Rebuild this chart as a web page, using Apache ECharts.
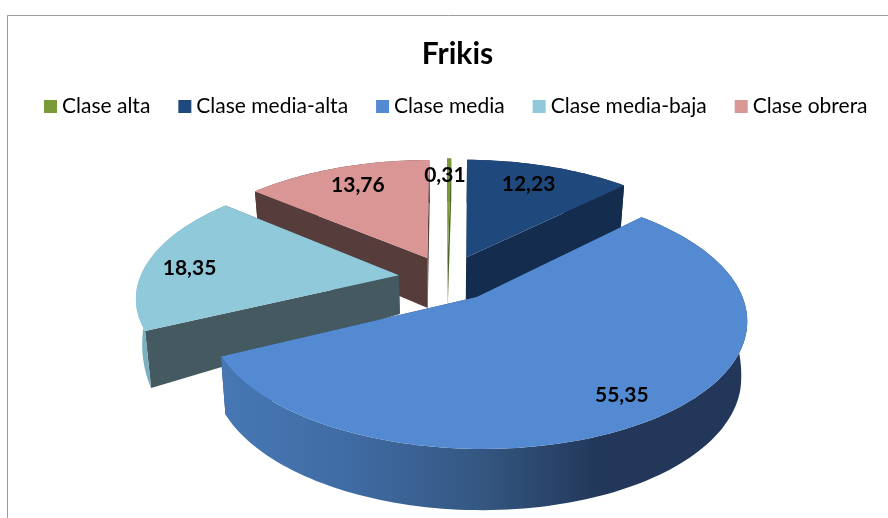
<!DOCTYPE html>
<html>
<head>
<meta charset="utf-8">
<style>html,body{margin:0;padding:0;background:#fff}#c{width:888px;height:518px}</style>
<script src="https://cdn.jsdelivr.net/npm/echarts@6/dist/echarts.min.js"></script>
</head>
<body>
<div id="c"></div>
<script>
const categories = ['Clase alta', 'Clase media-alta', 'Clase media', 'Clase media-baja', 'Clase obrera'];
const values = [0.31, 12.23, 55.35, 18.35, 13.76];
const labels = ['0,31', '12,23', '55,35', '18,35', '13,76'];
const topColors = ['#7a9a3a', '#1f497d', '#538ad2', '#8fc9da', '#d99694'];
const cutColors = ['#4f6426', '#142c4d', '#263f66', '#445a60', '#573c3c'];
const arcStops = [
  [[0, '#5f7a2c'], [1, '#4f6426']],
  [[0, '#142c4d'], [1, '#142c4d']],
  [[0, '#4778b4'], [0.25, '#3f6ba3'], [0.5, '#345680'], [0.72, '#22375a'], [1, '#22375a']],
  [[0, '#7fb4c4'], [1, '#5f8a96']],
  [[0, '#573c3c'], [1, '#573c3c']]
];
const layerOrder = [2, 3, 5, 4, 1];

// projection of the tilted pie
const CX = 447.5, CY = 278, R = 259, RY = 120, K = 0.164, EXPLODE = 0.19, ROT = -0.2;
const LABEL_R = 0.815, SHRINK = 0.98;
const LABEL_NUDGE = [[-4, 1], [-7, 3], [0, 4], [-5, 5], [6, 2]];
const DEPTH_V = [-1.3, -0.17, 0, 0.4, 1.3], DEPTH_PX = [42, 50, 37, 57, 62];

const total = values.reduce((a, b) => a + b, 0);
function angles(i) {
  let before = 0;
  for (let j = 0; j < i; j++) before += values[j];
  const a0 = before / total * 360 + ROT;
  return [a0, a0 + values[i] / total * 360];
}
function project(U, V) {
  const w = 1 - K * V;
  return [CX + R * U / w, CY + RY * V / w];
}
function depth(V) {
  for (let i = 1; i < DEPTH_V.length; i++) {
    if (V <= DEPTH_V[i]) {
      const t = (V - DEPTH_V[i - 1]) / (DEPTH_V[i] - DEPTH_V[i - 1]);
      return DEPTH_PX[i - 1] + t * (DEPTH_PX[i] - DEPTH_PX[i - 1]);
    }
  }
  return DEPTH_PX[DEPTH_PX.length - 1];
}
function offset(i) {
  const [a0, a1] = angles(i);
  const m = (a0 + a1) / 2 * Math.PI / 180;
  return [EXPLODE * Math.sin(m), -EXPLODE * Math.cos(m)];
}
function planePoint(i, deg, r) {
  const [ox, oy] = offset(i);
  const a = deg * Math.PI / 180;
  return [ox + r * Math.sin(a), oy - r * Math.cos(a)];
}
function topPt(p) { return project(p[0], p[1]); }
function botPt(p) {
  const t = project(p[0], p[1]);
  return [CX + (t[0] - CX) * SHRINK, t[1] + depth(p[1])];
}

function renderSlice(i) {
  const [a0, a1] = angles(i);
  const arc = [];
  const steps = Math.max(2, Math.ceil((a1 - a0) / 1.5));
  for (let s = 0; s <= steps; s++) arc.push(planePoint(i, a0 + (a1 - a0) * s / steps, 1));
  const apex = offset(i);
  const first = arc[0], last = arc[arc.length - 1];
  const face = (a, b) => ({
    type: 'polygon', silent: true,
    shape: { points: [topPt(a), topPt(b), botPt(b), botPt(a)] },
    style: { fill: cutColors[i] }
  });
  const wall = {
    type: 'polygon', silent: true,
    shape: { points: arc.map(topPt).concat(arc.slice().reverse().map(botPt)) },
    style: { fill: new echarts.graphic.LinearGradient(0, 0, 1, 0, arcStops[i].map(s => ({ offset: s[0], color: s[1] }))) }
  };
  const top = {
    type: 'polygon', silent: true,
    shape: { points: [topPt(apex)].concat(arc.map(topPt)) },
    style: { fill: topColors[i] }
  };
  return { type: 'group', children: [face(apex, first), face(apex, last), wall, top] };
}

function renderLabel(i) {
  const [a0, a1] = angles(i);
  const p = topPt(planePoint(i, (a0 + a1) / 2, LABEL_R));
  return {
    type: 'text', silent: true, x: p[0] + LABEL_NUDGE[i][0], y: p[1] + LABEL_NUDGE[i][1],
    style: { text: labels[i], fill: '#000', font: 'bold 21px Lato', align: 'center', verticalAlign: 'middle' }
  };
}

const series = categories.map((name, i) => ({
  name, type: 'custom', coordinateSystem: 'none', z: layerOrder[i],
  itemStyle: { color: topColors[i] },
  data: [[values[i]]],
  renderItem: () => renderSlice(i),
  animation: false
}));
series.push({
  name: 'labels', type: 'custom', coordinateSystem: 'none', z: 10,
  data: values.map(v => [v]),
  renderItem: (p) => renderLabel(p.dataIndex),
  animation: false
});

const chart = echarts.init(document.getElementById('c'), null, { renderer: 'canvas' });
chart.setOption({
  animation: false,
  backgroundColor: '#fff',
  title: {
    text: 'Frikis', left: 457.5, top: 39, textAlign: 'center', padding: 0,
    textStyle: { fontFamily: 'Lato', fontWeight: 'bold', fontSize: 30, color: '#000' }
  },
  legend: {
    data: categories, left: 44, top: 96, padding: 0, icon: 'rect', itemWidth: 13, itemHeight: 13, itemGap: 28,
    textStyle: { fontFamily: 'Lato', fontSize: 21, color: '#000', padding: [0, 0, 0, 0] },
    selectedMode: false
  },
  graphic: [{
    type: 'rect', silent: true, z: 0,
    shape: { x: 7.5, y: 15.5, width: 1000, height: 700 },
    style: { fill: 'none', stroke: '#9c9c9c', lineWidth: 1 }
  }],
  series
});
</script>
</body>
</html>
